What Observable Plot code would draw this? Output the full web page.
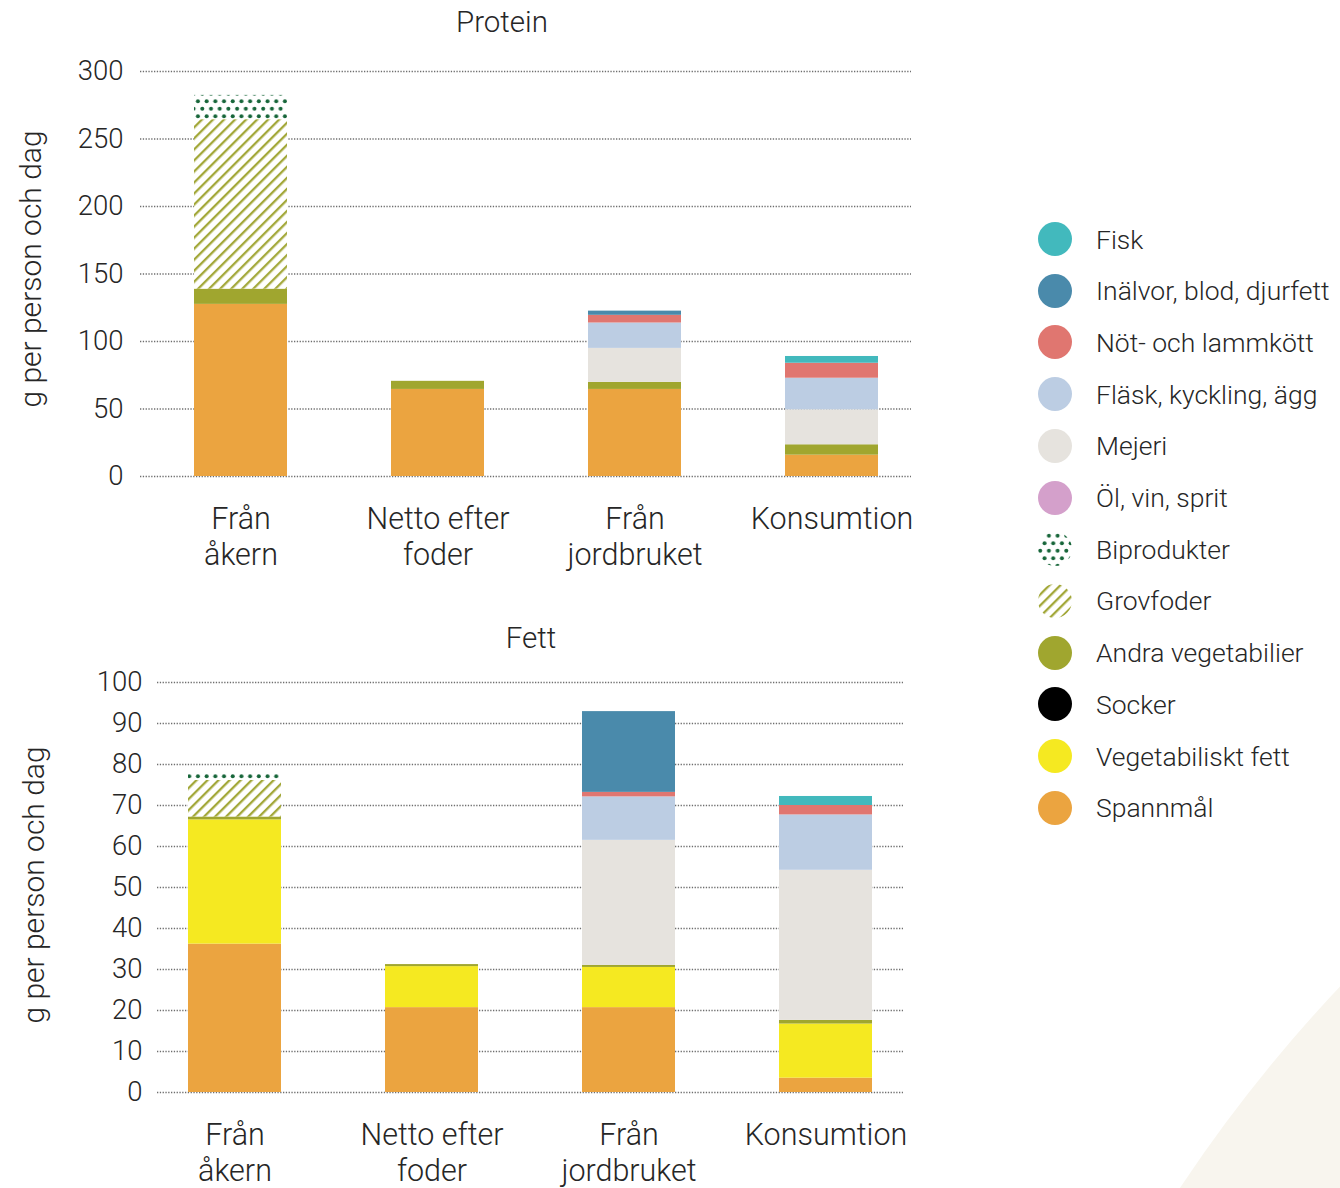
<!DOCTYPE html>
<html><head><meta charset="utf-8">
<script src="https://cdn.jsdelivr.net/npm/d3@7"></script>
<script src="https://cdn.jsdelivr.net/npm/@observablehq/plot@0.6"></script>
<style>
body{margin:0;width:1340px;height:1188px;position:relative;overflow:hidden;background:#fff;font-family:Roboto, "Noto Sans", sans-serif;font-weight:300;color:#262626}
#bg{position:absolute;left:930px;top:517px;width:3000px;height:3000px;border-radius:50%;background:#f8f5ee}
.chart{position:absolute;left:0}
.title{position:absolute;font-size:29.5px;transform:translate(-50%,-50%);white-space:nowrap}
.ylab{position:absolute;font-size:30px;white-space:nowrap;transform:translate(-50%,-50%) rotate(-90deg)}
.leg{position:absolute;left:1038px;height:36px;display:flex;align-items:center;font-size:26.5px;white-space:nowrap}
.leg svg{margin-right:24px}
</style></head>
<body>
<div id="bg"></div>
<svg width="0" height="0" style="position:absolute">
  <defs>
    <pattern id="hatch" patternUnits="userSpaceOnUse" width="7.8" height="7.8" patternTransform="rotate(45)">
      <rect x="0" y="0" width="7.8" height="7.8" fill="#fff"/>
      <rect x="0" y="0" width="2.3" height="7.8" fill="#a3a83a"/>
    </pattern>
    <pattern id="dots" patternUnits="userSpaceOnUse" width="8.7" height="15">
      <rect x="0" y="0" width="8.7" height="15" fill="#fff"/>
      <circle cx="2.2" cy="3.75" r="2" fill="#17663a"/>
      <circle cx="6.55" cy="11.25" r="2" fill="#17663a"/>
    </pattern>
  </defs>
</svg>
<div id="protein" class="chart" style="top:0"></div>
<div id="fett" class="chart" style="top:600px"></div>
<div class="title" style="left:502px;top:22px">Protein</div>
<div class="title" style="left:531px;top:638px">Fett</div>
<div class="ylab" style="left:30px;top:269px">g per person och dag</div>
<div class="ylab" style="left:33px;top:885px">g per person och dag</div>
<div id="legend"></div>
<script>
const categories = ["Från\nåkern", "Netto efter\nfoder", "Från\njordbruket", "Konsumtion"];
const groups = ["Fisk", "Inälvor, blod, djurfett", "Nöt- och lammkött", "Fläsk, kyckling, ägg", "Mejeri", "Öl, vin, sprit", "Biprodukter", "Grovfoder", "Andra vegetabilier", "Socker", "Vegetabiliskt fett", "Spannmål"];
const colors = ["#42b9bd", "#4a8aab", "#e07670", "#bccde3", "#e6e3de", "#d4a0cb", "url(#dots)", "url(#hatch)", "#a0a62f", "#000000", "#f5e921", "#eba440"];

// rows follow `groups`, columns follow `categories`
const proteinValues = [
  [0, 0, 0, 5.0],        // Fisk
  [0, 0, 3.1, 0],        // Inälvor
  [0, 0, 5.7, 11.1],     // Nöt
  [0, 0, 18.8, 23.4],    // Fläsk
  [0, 0, 25.2, 25.9],    // Mejeri
  [0, 0, 0, 0],          // Öl
  [18, 0, 0, 0],         // Biprodukter
  [125.5, 0, 0, 0],      // Grovfoder
  [11.3, 6, 5.2, 7.7],   // Andra vegetabilier
  [0, 0, 0, 0],          // Socker
  [0, 0, 0, 0],          // Vegetabiliskt fett
  [127.5, 64.5, 64.5, 15.8] // Spannmål
];
const fettValues = [
  [0, 0, 0, 2.2],
  [0, 0, 19.7, 0],
  [0, 0, 1.1, 2.3],
  [0, 0, 10.6, 13.5],
  [0, 0, 30.5, 36.6],
  [0, 0, 0, 0],
  [1.7, 0, 0, 0],
  [8.9, 0, 0, 0],
  [0.7, 0.5, 0.5, 0.9],
  [0, 0, 0, 0],
  [30.3, 10, 9.8, 13.2],
  [36.2, 20.7, 20.7, 3.5]
];
const proteinTicks = [0, 50, 100, 150, 200, 250, 300];
const fettTicks = [0, 10, 20, 30, 40, 50, 60, 70, 80, 90, 100];

function toRows(values) {
  const rows = [];
  for (let i = groups.length - 1; i >= 0; i--) {
    categories.forEach((c, j) => rows.push({cat: c, group: groups[i], value: values[i][j]}));
  }
  return rows;
}

function chart(values, ticks, o) {
  return Plot.plot({
    width: 930, height: o.height,
    marginLeft: o.ml, marginRight: o.mr, marginTop: o.mt, marginBottom: o.mb,
    style: {fontFamily: "Roboto, 'Noto Sans', sans-serif", fontWeight: 300, color: "#262626", background: "transparent", overflow: "visible"},
    x: {domain: categories, range: o.xr, paddingInner: 0.528, paddingOuter: 0, label: null},
    y: {domain: [0, ticks[ticks.length - 1]], label: null},
    color: {type: "ordinal", domain: groups, range: colors},
    marks: [
      Plot.ruleY(ticks, {stroke: "#6e6e6e", strokeWidth: 1.6, strokeDasharray: "1.3,1.5"}),
      Plot.barY(toRows(values), {x: "cat", y: "value", fill: "group"}),
      Plot.axisY(ticks, {tickSize: 0, tickPadding: o.tp, fontSize: 27.5, label: null}),
      Plot.axisX({tickSize: 0, tickPadding: 27, fontSize: 30.5, lineHeight: 1.18, label: null})
    ]
  });
}

document.getElementById("protein").append(chart(proteinValues, proteinTicks,
  {height: 590, ml: 140, mr: 19, mt: 71, mb: 114, xr: [193, 879], tp: 17}));
document.getElementById("fett").append(chart(fettValues, fettTicks,
  {height: 588, ml: 157, mr: 27, mt: 82, mb: 96, xr: [188, 872], tp: 15}));

const leg = document.getElementById("legend");
groups.forEach((g, i) => {
  const d = document.createElement("div");
  d.className = "leg";
  d.style.top = (239 + i * 51.7 - 18) + "px";
  d.innerHTML = `<svg width="34" height="34"><circle cx="17" cy="17" r="17" fill="${colors[i]}"/></svg><span>${g}</span>`;
  leg.append(d);
});
</script>
</body></html>
